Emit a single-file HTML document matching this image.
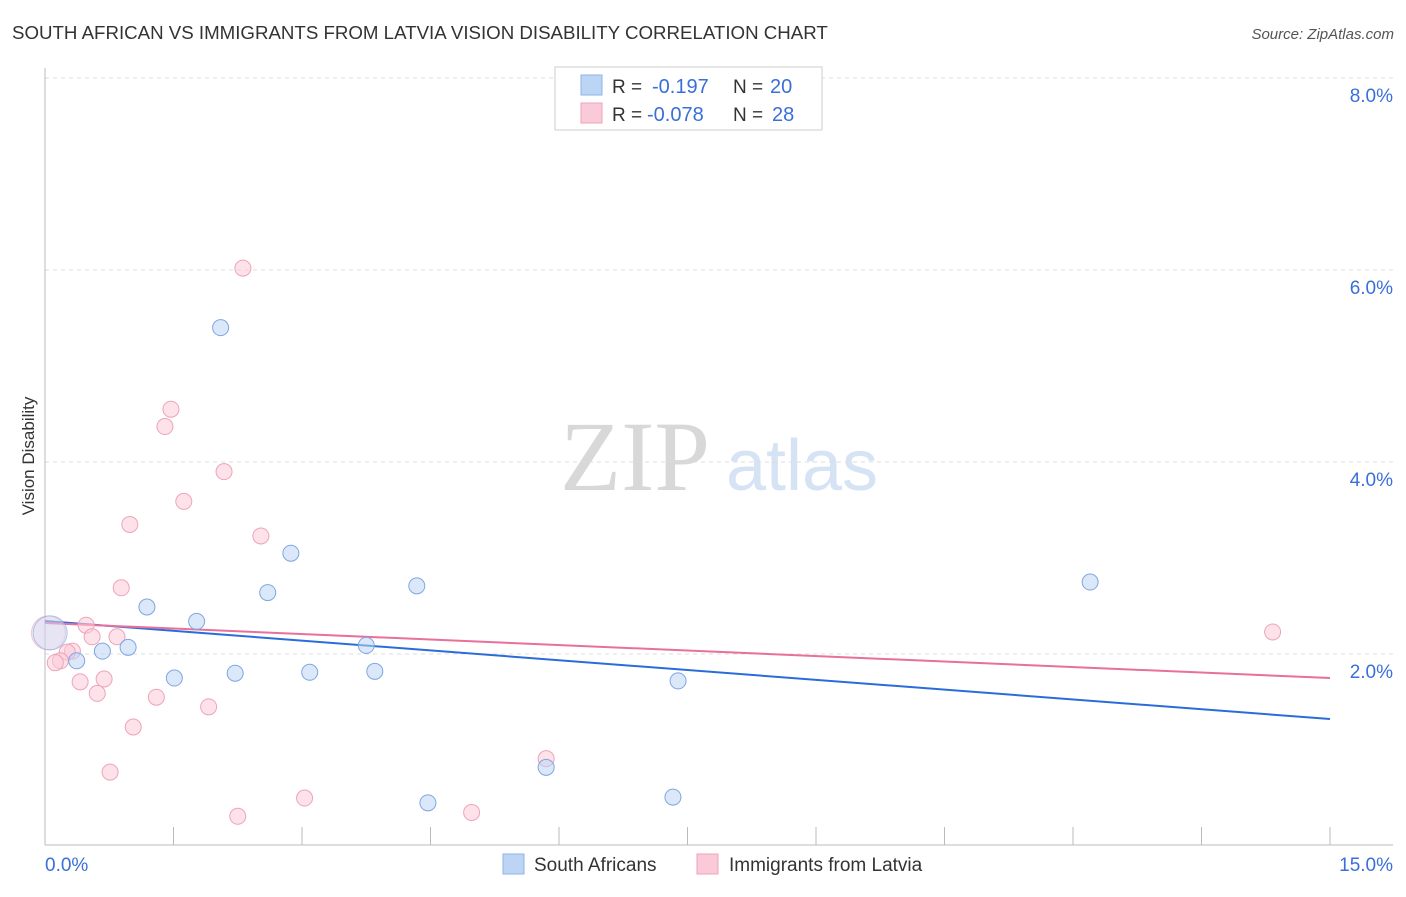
<!DOCTYPE html>
<html><head><meta charset="utf-8"><style>
body{margin:0;background:#fff;font-family:"Liberation Sans",sans-serif;}
svg text{font-family:"Liberation Sans",sans-serif;}
</style></head><body>
<svg id="chart" width="1406" height="892" xmlns="http://www.w3.org/2000/svg">
<text x="12" y="39" font-size="18.7" fill="#333">SOUTH AFRICAN VS IMMIGRANTS FROM LATVIA VISION DISABILITY CORRELATION CHART</text>
<text x="1394" y="39" font-size="15" fill="#555" font-style="italic" text-anchor="end">Source: ZipAtlas.com</text>
<text transform="translate(34,456) rotate(-90)" font-size="17" fill="#333" text-anchor="middle">Vision Disability</text>
<g>
<text x="635" y="490" font-size="100" fill="#d8d8d8" style="font-family:'Liberation Serif',serif" text-anchor="middle">ZIP</text>
<text x="802" y="490" font-size="72" fill="#d5e3f5" text-anchor="middle">atlas</text></g>
<g id="grid"></g><g id="axes"></g><g id="trends"></g><g id="points"></g>
<g>
<rect x="555" y="67" width="267" height="63" fill="#fff" stroke="#ccc"/>
<rect x="581" y="75" width="21" height="20" fill="#bcd5f5" stroke="#8fb2e6"/>
<rect x="581" y="103" width="21" height="20" fill="#fbcad8" stroke="#eea3bb"/>
<text x="612" y="93" font-size="19" fill="#333">R = </text><text x="652" y="93" font-size="20" fill="#3a6fd8">-0.197</text>
<text x="733" y="93" font-size="19" fill="#333">N = </text><text x="770" y="93" font-size="20" fill="#3a6fd8">20</text>
<text x="612" y="121" font-size="19" fill="#333">R = </text><text x="647" y="121" font-size="20" fill="#3a6fd8">-0.078</text>
<text x="733" y="121" font-size="19" fill="#333">N = </text><text x="772" y="121" font-size="20" fill="#3a6fd8">28</text>
</g>
<g>
<rect x="503" y="854" width="21" height="20" fill="#bcd5f5" stroke="#8fb2e6"/>
<text x="534" y="871" font-size="19" fill="#333">South Africans</text>
<rect x="697" y="854" width="21" height="20" fill="#fbcad8" stroke="#eea3bb"/>
<text x="729" y="871" font-size="19" fill="#333">Immigrants from Latvia</text>
</g>
</svg>
<script>
const xTicks=[0,1.5,3,4.5,6,7.5,9,10.5,12,13.5,15];
const yTicks=[2,4,6,8];
const blueX=[2.05,2.87,2.60,4.34,1.19,1.77,0.97,0.67,0.37,1.51,2.22,3.09,3.75,3.85,7.39,12.20,5.85,4.47,7.33,0.06];
const blueY=[5.41,3.06,2.65,2.72,2.50,2.35,2.08,2.04,1.94,1.76,1.81,1.82,2.10,1.83,1.73,2.76,0.83,0.46,0.52,2.23];
const pinkX=[2.31,1.47,1.40,2.09,1.62,0.99,2.52,0.89,0.48,0.55,0.84,0.32,0.26,0.18,0.12,0.41,0.69,0.61,1.30,1.91,1.03,0.76,3.03,2.25,4.98,5.85,14.33,0.04];
const pinkY=[6.03,4.56,4.38,3.91,3.60,3.36,3.24,2.70,2.31,2.19,2.19,2.04,2.03,1.94,1.92,1.72,1.75,1.60,1.56,1.46,1.25,0.78,0.51,0.32,0.36,0.92,2.24,2.23];
const blueTrend=[2.354,1.333];
const pinkTrend=[2.333,1.760];
const NS="http://www.w3.org/2000/svg";
const X=v=>45+v*1285/15, Y=v=>847-v*96;
function mk(p,t,a){const e=document.createElementNS(NS,t);for(const k in a)e.setAttribute(k,a[k]);p.appendChild(e);return e;}
const grid=document.getElementById('grid'),axes=document.getElementById('axes');
yTicks.forEach(v=>{
 const l=mk(grid,'line',{x1:45,x2:1393,y1:Y(v)-1,y2:Y(v)-1,stroke:'#ddd','stroke-dasharray':'4,4'});
 
 
 const t=mk(grid,'text',{x:1393,y:Y(v)+23,'font-size':19,fill:'#3a6fd8','text-anchor':'end'});t.textContent=v.toFixed(1)+'%';
 
 
});
mk(axes,'line',{x1:45,x2:45,y1:68,y2:845,stroke:'#bbb'});
mk(axes,'line',{x1:45,x2:1393,y1:845,y2:845,stroke:'#bbb'});
xTicks.forEach(v=>{const l=mk(axes,'line',{x1:X(v),x2:X(v),y1:827,y2:845,stroke:'#bbb'});
 
 });
[[0,'start',45],[15,'end',1393]].forEach(([v,a,px])=>{const t=mk(axes,'text',{x:px,y:871,'font-size':19,fill:'#3a6fd8','text-anchor':a});t.textContent=v.toFixed(1)+'%';
 
 });
const tr=document.getElementById('trends');
const bl=mk(tr,'line',{x1:X(0),x2:X(15),y1:Y(blueTrend[0]),y2:Y(blueTrend[1]),stroke:'#2a6dd9','stroke-width':2});


const pl=mk(tr,'line',{x1:X(0),x2:X(15),y1:Y(pinkTrend[0]),y2:Y(pinkTrend[1]),stroke:'#e8709a','stroke-width':2});


const pts=document.getElementById('points');
function draw(xs,ys,fill,stroke,name){xs.forEach((x,i)=>{const big=i===xs.length-1;
 const c=mk(pts,'circle',{cx:X(x),cy:Y(ys[i]),r:big?17:8,fill:fill,'fill-opacity':big?0.35:0.55,stroke:stroke,'stroke-opacity':big?0.6:1,'stroke-width':1});
 
 });}
draw(pinkX,pinkY,'#fbcad8','#eea3bb','latvia-point');
draw(blueX,blueY,'#bcd5f5','#7fa6e0','south-africans-point');
</script>
</body></html>
